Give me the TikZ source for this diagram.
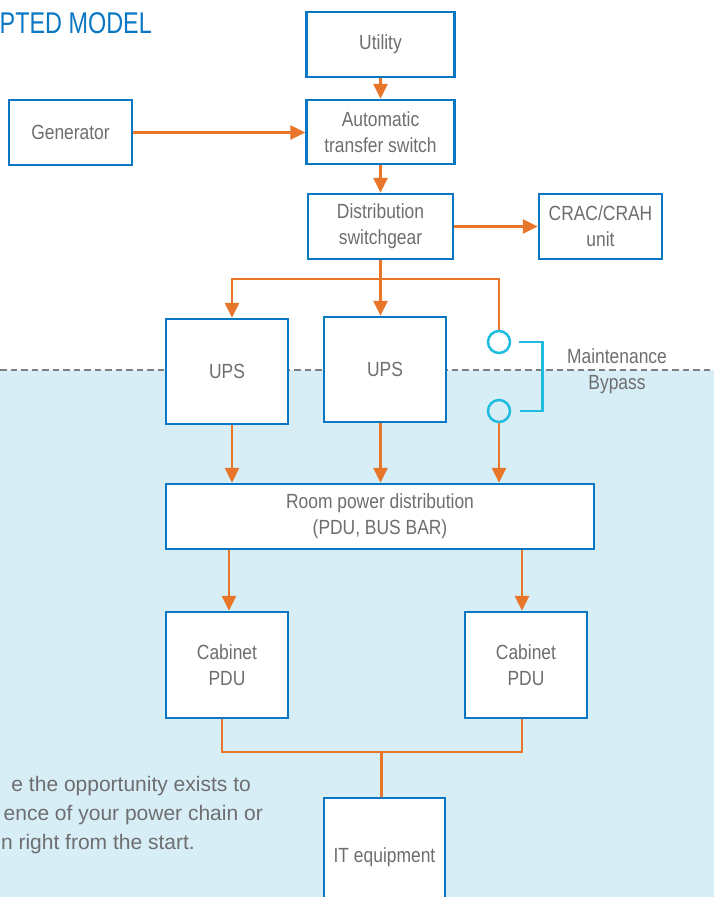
\documentclass[tikz,border=0pt]{standalone}
\usepackage{fontspec}
\setmainfont{Liberation Sans}[FakeStretch=0.85]
\newfontfamily\notefont{Liberation Sans}
\newfontfamily\headfont{Liberation Sans}[FakeStretch=0.78]
\usetikzlibrary{arrows.meta}
\definecolor{boxblue}{HTML}{0A77C5}
\definecolor{feedorange}{HTML}{E8762A}
\definecolor{bypasscyan}{HTML}{1FBCDF}
\definecolor{roomblue}{HTML}{D7EEF6}
\definecolor{labelgray}{HTML}{6E6E70}
\definecolor{rulegray}{HTML}{7F7F80}
\begin{document}
\begin{tikzpicture}
  [x=1pt,y=-1pt,
  box/.style={draw=boxblue,line width=2.5pt,fill=white,text=labelgray,
    align=center,inner sep=0pt,font=\fontsize{20.5}{26}\selectfont},
  feed/.style={draw=feedorange,line width=2.8pt},
  pwr/.style={feed,-{Triangle[length=15pt,width=14pt]}},
  switchring/.style={circle,draw=bypasscyan,line width=2.5pt,
    minimum size=22pt,inner sep=0pt},
  label/.style={text=labelgray,align=center,font=\fontsize{20.5}{26}\selectfont},
  note/.style={anchor=base east,inner sep=0pt,text=labelgray,
    font=\notefont\fontsize{21}{29}\selectfont}]
\useasboundingbox (0,0) rectangle (714,897);
\clip (0,0) rectangle (714,897);
\fill[roomblue] (0,370) rectangle (714,897);
\draw[rulegray,line width=1.3pt,dash pattern=on 6.5pt off 4pt] (0,370) -- (714,370);
\node[anchor=base east,inner sep=0pt,text=boxblue,
  font=\headfont\fontsize{30}{30}\selectfont] (title) at (152,33) {PTED MODEL};
\node[box,minimum width=148pt,minimum height=65pt] (util) at (380.5,44.5) {Utility};
\node[box,minimum width=148pt,minimum height=64pt] (ats) at (380.5,132) {Automatic\\transfer switch};
\node[box,minimum width=145pt,minimum height=65pt] (swg) at (380.5,226.5) {Distribution\\switchgear};
\node[box,minimum width=123pt,minimum height=65pt] (crac) at (600.5,226.5) {CRAC/CRAH\\unit};
\node[box,minimum width=123pt,minimum height=65pt] (gen) at (70.5,132.5) {Generator};
\node[box,minimum width=122pt,minimum height=105pt] (ups1) at (227,371.5) {UPS};
\node[box,minimum width=122pt,minimum height=105pt] (ups2) at (385,369.5) {UPS};
\node[switchring] (byA) at (499,342) {};
\node[switchring] (byB) at (499,411) {};
\node[label] (bypass) at (617,371) {Maintenance\\Bypass};
\node[box,minimum width=428pt,minimum height=65pt] (room) at (380,516.5) {Room power distribution\\(PDU, BUS BAR)};
\node[box,minimum width=122pt,minimum height=106pt] (cab1) at (227,665) {Cabinet\\PDU};
\node[box,minimum width=122pt,minimum height=106pt] (cab2) at (526,665) {Cabinet\\PDU};
\node[box,minimum width=121pt,minimum height=118pt] (it) at (384.5,857) {IT equipment};
\node[note] (note1) at (251,791) {e the opportunity exists to};
\node[note] (note2) at (263,820) {ence of your power chain or};
\node[note] (note3) at (195,849) {n right from the start.};
\coordinate (busL) at (232,279);
\coordinate (busR) at (499,279);
\coordinate (join) at (381.5,752);
\draw[pwr] (util) -- (ats);
\draw[pwr] (gen.east) -- (gen.east -| ats.west);
\draw[pwr] (ats) -- (swg);
\draw[pwr] (swg) -- (crac);
\draw[pwr] (byA.north) -- (busR) -- (busL) -- (busL |- ups1.north);
\draw[pwr] (swg.south) -- (swg.south |- ups2.north);
\draw[bypasscyan,line width=2.5pt] ([xshift=8pt]byA.east) -| ([xshift=31pt]byB.east) -- ([xshift=9pt]byB.east);
\draw[pwr] (ups1.south -| busL) -- (busL |- room.north);
\draw[pwr] (swg.south |- ups2.south) -- (swg.south |- room.north);
\draw[pwr] (byB) -- (byB |- room.north);
\draw[pwr] ([xshift=2pt]cab1.north |- room.south) -- ([xshift=2pt]cab1.north);
\draw[pwr] ([xshift=-4pt]cab2.north |- room.south) -- ([xshift=-4pt]cab2.north);
\draw[feed] ([xshift=-5pt]cab1.south) |- (join) -| ([xshift=-4pt]cab2.south);
\draw[feed] (join) -- (join |- it.north);
\end{tikzpicture}
\end{document}
